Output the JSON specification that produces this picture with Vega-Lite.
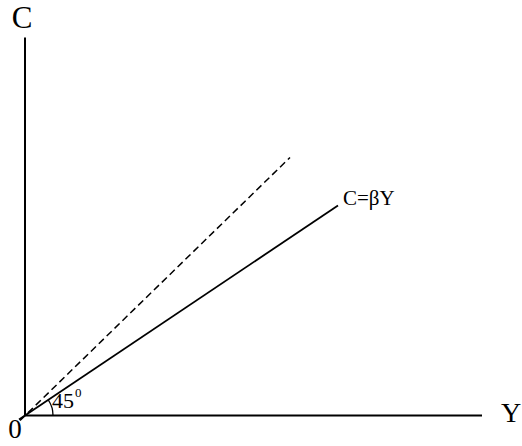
{
  "$schema": "https://vega.github.io/schema/vega-lite/v6.json",
  "width": 522,
  "height": 446,
  "autosize": "none",
  "padding": 0,
  "background": "white",
  "config": {"view": {"stroke": null}, "text": {"font": "Liberation Serif", "color": "black", "baseline": "alphabetic"}},
  "datasets": {
    "axes": [
      {"g": "yaxis", "x": 0, "y": 0},
      {"g": "yaxis", "x": 0, "y": 378},
      {"g": "xaxis", "x": 0, "y": 0},
      {"g": "xaxis", "x": 457, "y": 0}
    ],
    "dashed": [
      {"x": -5, "y": -5},
      {"x": 265, "y": 258}
    ],
    "solid": [
      {"x": -6, "y": -4},
      {"x": 313, "y": 210}
    ],
    "arc": [
      {"x": 28, "y": 0},
      {"x": 27.6, "y": 4.9},
      {"x": 26.3, "y": 9.6},
      {"x": 24.2, "y": 14},
      {"x": 23.2, "y": 15.7}
    ],
    "big": [
      {"t": "C", "x": -3, "y": 387.5}
    ],
    "zero": [
      {"t": "0", "x": -10, "y": -22.5}
    ],
    "ylab": [
      {"t": "Y", "x": 486, "y": -6.5}
    ],
    "deg": [
      {"t": "45", "x": 27, "y": 7.5}
    ],
    "sup": [
      {"t": "0", "x": 50, "y": 18.5}
    ],
    "eq": [
      {"t": "C=βY", "x": 318, "y": 210.5}
    ]
  },
  "layer": [
    {
      "data": {"name": "axes"},
      "mark": {"type": "line", "color": "black", "strokeWidth": 2},
      "encoding": {
        "x": {"field": "x", "type": "quantitative", "scale": {"domain": [-25, 497], "nice": false, "zero": false}, "axis": null},
        "y": {"field": "y", "type": "quantitative", "scale": {"domain": [-30.5, 415.5], "nice": false, "zero": false}, "axis": null},
        "detail": {"field": "g"}
      }
    },
    {
      "data": {"name": "dashed"},
      "mark": {"type": "line", "color": "black", "strokeWidth": 1.5, "strokeDash": [7, 4]},
      "encoding": {
        "x": {"field": "x", "type": "quantitative"},
        "y": {"field": "y", "type": "quantitative"}
      }
    },
    {
      "data": {"name": "solid"},
      "mark": {"type": "line", "color": "black", "strokeWidth": 1.8},
      "encoding": {
        "x": {"field": "x", "type": "quantitative"},
        "y": {"field": "y", "type": "quantitative"}
      }
    },
    {
      "data": {"name": "arc"},
      "mark": {"type": "line", "color": "black", "strokeWidth": 1.3, "interpolate": "monotone"},
      "encoding": {
        "x": {"field": "x", "type": "quantitative"},
        "y": {"field": "y", "type": "quantitative"},
        "order": {"field": "y", "type": "quantitative"}
      }
    },
    {
      "data": {"name": "big"},
      "mark": {"type": "text", "fontSize": 31, "align": "center"},
      "encoding": {
        "x": {"field": "x", "type": "quantitative"},
        "y": {"field": "y", "type": "quantitative"},
        "text": {"field": "t"}
      }
    },
    {
      "data": {"name": "zero"},
      "mark": {"type": "text", "fontSize": 27, "align": "center"},
      "encoding": {
        "x": {"field": "x", "type": "quantitative"},
        "y": {"field": "y", "type": "quantitative"},
        "text": {"field": "t"}
      }
    },
    {
      "data": {"name": "ylab"},
      "mark": {"type": "text", "fontSize": 28, "align": "center"},
      "encoding": {
        "x": {"field": "x", "type": "quantitative"},
        "y": {"field": "y", "type": "quantitative"},
        "text": {"field": "t"}
      }
    },
    {
      "data": {"name": "deg"},
      "mark": {"type": "text", "fontSize": 22, "align": "left"},
      "encoding": {
        "x": {"field": "x", "type": "quantitative"},
        "y": {"field": "y", "type": "quantitative"},
        "text": {"field": "t"}
      }
    },
    {
      "data": {"name": "sup"},
      "mark": {"type": "text", "fontSize": 13, "align": "left"},
      "encoding": {
        "x": {"field": "x", "type": "quantitative"},
        "y": {"field": "y", "type": "quantitative"},
        "text": {"field": "t"}
      }
    },
    {
      "data": {"name": "eq"},
      "mark": {"type": "text", "fontSize": 21, "align": "left"},
      "encoding": {
        "x": {"field": "x", "type": "quantitative"},
        "y": {"field": "y", "type": "quantitative"},
        "text": {"field": "t"}
      }
    }
  ]
}
